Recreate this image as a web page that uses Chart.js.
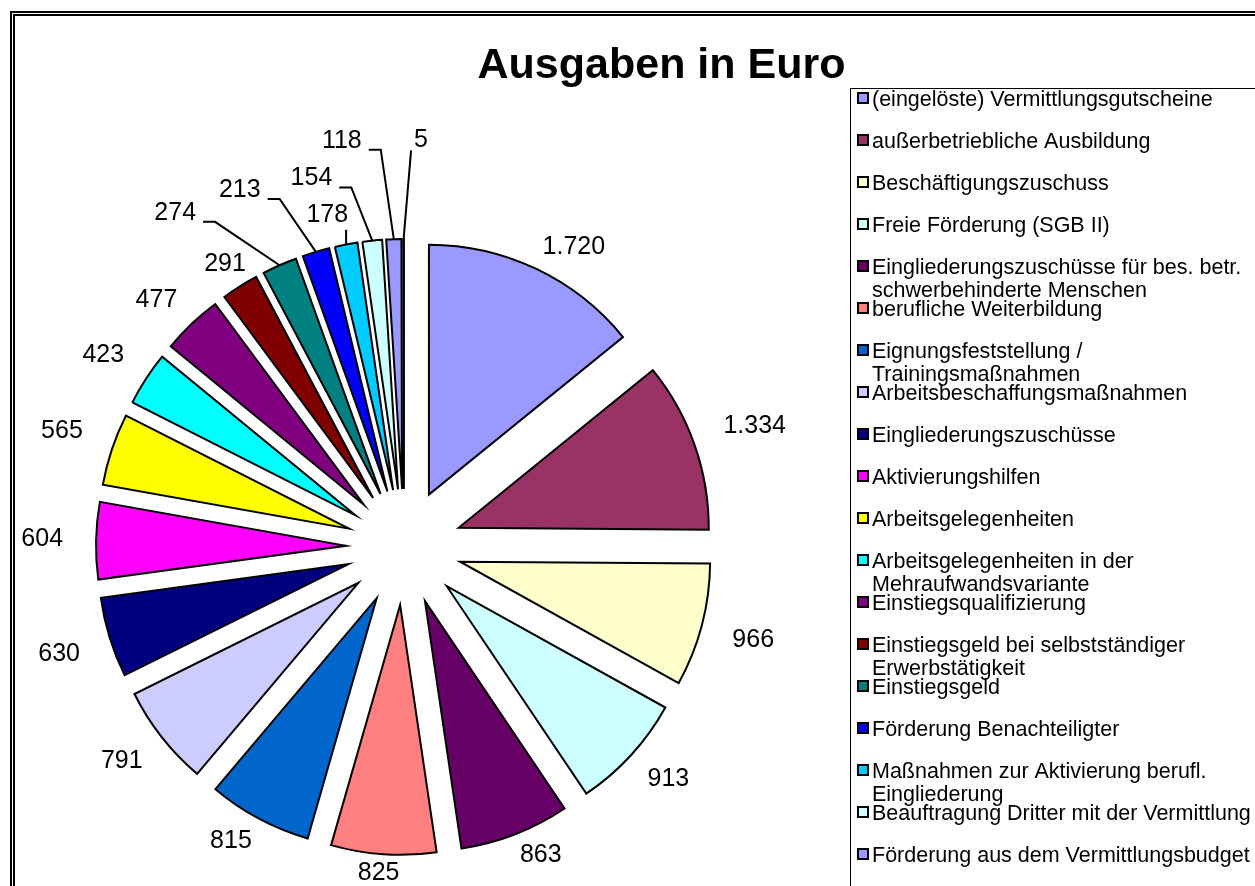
<!DOCTYPE html>
<html><head><meta charset="utf-8">
<script src="https://cdn.jsdelivr.net/npm/chart.js@4.4.1/dist/chart.umd.min.js"></script>
<style>
html,body{margin:0;padding:0;background:#fff;overflow:hidden;width:1255px;height:886px;}
#frame{position:absolute;left:10px;top:11px;border:5px double #000;width:1293px;height:1000px;}
canvas{display:block;}
</style></head><body>
<div id="frame"><canvas id="c" width="1293" height="1000"></canvas></div>
<script>
// ---- data ----
const titleText = 'Ausgaben in Euro';
const categories = [
  '(eingelöste) Vermittlungsgutscheine',
  'außerbetriebliche Ausbildung',
  'Beschäftigungszuschuss',
  'Freie Förderung (SGB II)',
  ['Eingliederungszuschüsse für bes. betr.', 'schwerbehinderte Menschen'],
  'berufliche Weiterbildung',
  ['Eignungsfeststellung /', 'Trainingsmaßnahmen'],
  'Arbeitsbeschaffungsmaßnahmen',
  'Eingliederungszuschüsse',
  'Aktivierungshilfen',
  'Arbeitsgelegenheiten',
  ['Arbeitsgelegenheiten in der', 'Mehraufwandsvariante'],
  'Einstiegsqualifizierung',
  ['Einstiegsgeld bei selbstständiger', 'Erwerbstätigkeit'],
  'Einstiegsgeld',
  'Förderung Benachteiligter',
  ['Maßnahmen zur Aktivierung berufl.', 'Eingliederung'],
  'Beauftragung Dritter mit der Vermittlung',
  'Förderung aus dem Vermittlungsbudget',
  ''
];
const values = [1720, 1334, 966, 913, 863, 825, 815, 791, 630, 604, 565, 423, 477, 291, 274, 213, 178, 154, 118, 5];
const colors = ['#9999FF','#993366','#FFFFCC','#CCFFFF','#660066','#FF8080','#0066CC','#CCCCFF','#000080','#FF00FF',
                '#FFFF00','#00FFFF','#800080','#800000','#008080','#0000FF','#00CCFF','#CCFFFF','#9999FF','#993366'];

// ---- layout / style ----
const PIE_RADIUS = 250;
const EXPLODE = 232;             // chart.js offset (drawn as EXPLODE/4)
const LABEL_DIST = 341;
const FONT = '"Liberation Sans", Arial, sans-serif';
// label placement overrides for crowded small slices (compass angle in degrees, distance from pie centre)
const labelOverrides = {
  13: {angle: 327.7, dist: 335},
  14: {angle: 325.6, dist: 405, leader: true},
  15: {angle: 335.3, dist: 393, leader: true},
  16: {angle: 347.0, dist: 341, leader: true},
  17: {angle: 345.9, dist: 380, leader: true},
  18: {angle: 351.3, dist: 411, leader: true},
  19: {angle: 2.4,   dist: 407, leader: true}
};

const fmt = v => String(v).replace(/\B(?=(\d{3})+(?!\d))/g, '.');

// keep every exploded slice at the same radius and its true angular size
const explodeFix = {
  id: 'explodeFix',
  beforeDatasetsDraw(chart) {
    chart.getDatasetMeta(0).data.forEach(arc => {
      const off = (arc.options.offset || 0) / 4;
      const circ = arc.circumference || 0;
      const fix = 1 - Math.sin(Math.min(Math.PI, circ));
      const rOff = off * fix;
      arc.outerRadius = PIE_RADIUS - rOff;
      const widen = rOff / (Math.PI * PIE_RADIUS);
      const mid = (arc.startAngle + arc.endAngle) / 2;
      arc.startAngle = mid - (circ + widen) / 2;
      arc.endAngle = mid + (circ + widen) / 2;
    });
  }
};

const sliceLabels = {
  id: 'sliceLabels',
  afterDatasetsDraw(chart) {
    const ctx = chart.ctx;
    const meta = chart.getDatasetMeta(0);
    const vals = chart.data.datasets[0].data;
    ctx.save();
    ctx.font = '25px ' + FONT;
    ctx.fillStyle = '#000';
    ctx.strokeStyle = '#000';
    ctx.lineWidth = 2;
    ctx.textAlign = 'center';
    ctx.textBaseline = 'middle';
    const cl = v => Math.max(-1, Math.min(1, v * 3));
    meta.data.forEach((arc, i) => {
      const cx = arc.x, cy = arc.y;
      const mid = (arc.startAngle + arc.endAngle) / 2;
      const dx = Math.cos(mid), dy = Math.sin(mid);
      const txt = fmt(vals[i]);
      const w = ctx.measureText(txt).width, h = 18;
      let lx, ly;
      const ov = labelOverrides[i];
      if (ov) {
        const a = (ov.angle - 90) * Math.PI / 180;
        lx = cx + ov.dist * Math.cos(a);
        ly = cy + ov.dist * Math.sin(a);
      } else {
        const d = LABEL_DIST - 23 * dy * dy;
        lx = cx + d * dx + w / 2 * cl(dx);
        ly = cy + d * dy + h / 2 * cl(dy);
      }
      ctx.fillText(txt, lx, ly);
      if (ov && ov.leader) {
        const edge = PIE_RADIUS + EXPLODE / 4;
        const ex = cx + edge * dx, ey = cy + edge * dy;
        const right = lx + w / 2, left = lx - w / 2, base = ly + h / 2;
        ctx.beginPath();
        if (ex > right + 20) {
          ctx.moveTo(right + 7, base); ctx.lineTo(right + 19, base); ctx.lineTo(ex, ey);
        } else if (ex < left) {
          ctx.moveTo(left - 3, base + 1); ctx.lineTo(ex, ey);
        } else {
          ctx.moveTo(ex, base + 6); ctx.lineTo(ex, ey);
        }
        ctx.stroke();
      }
    });
    ctx.restore();
  }
};

const titleAndLegend = {
  id: 'titleAndLegend',
  afterDraw(chart) {
    const ctx = chart.ctx;
    ctx.save();
    // title
    ctx.fillStyle = '#000';
    ctx.font = 'bold 43px ' + FONT;
    ctx.textAlign = 'center';
    ctx.textBaseline = 'alphabetic';
    ctx.fillText(titleText, chart.width / 2, 62);
    // legend box
    ctx.strokeStyle = '#000';
    ctx.lineWidth = 1;
    ctx.strokeRect(835.5, 72.5, 600, 1000);
    ctx.font = '21.5px ' + FONT;
    ctx.textAlign = 'left';
    ctx.textBaseline = 'middle';
    const bg = chart.data.datasets[0].backgroundColor;
    chart.data.labels.forEach((lab, i) => {
      const lines = Array.isArray(lab) ? lab : [lab];
      if (!lines.join('')) return;
      const y = 84 + i * 42;
      ctx.fillStyle = '#000';
      ctx.fillRect(842, y - 8, 12, 12);
      ctx.fillStyle = bg[i];
      ctx.fillRect(844, y - 6, 8, 8);
      ctx.fillStyle = '#000';
      lines.forEach((ln, j) => ctx.fillText(ln, 857, y + j * 23));
    });
    ctx.restore();
  }
};

new Chart(document.getElementById('c'), {
  type: 'pie',
  data: {
    labels: categories,
    datasets: [{
      data: values,
      backgroundColor: colors,
      borderColor: '#000',
      borderWidth: 2,
      borderJoinStyle: 'miter',
      offset: EXPLODE,
      radius: PIE_RADIUS
    }]
  },
  options: {
    responsive: false,
    animation: false,
    devicePixelRatio: 1,
    radius: PIE_RADIUS,
    layout: { padding: { left: 0, right: 515, top: 72, bottom: 10 } },
    plugins: {
      legend: { display: false },
      tooltip: { enabled: false },
      title: { display: false }
    }
  },
  plugins: [explodeFix, sliceLabels, titleAndLegend]
});
</script>
</body></html>
